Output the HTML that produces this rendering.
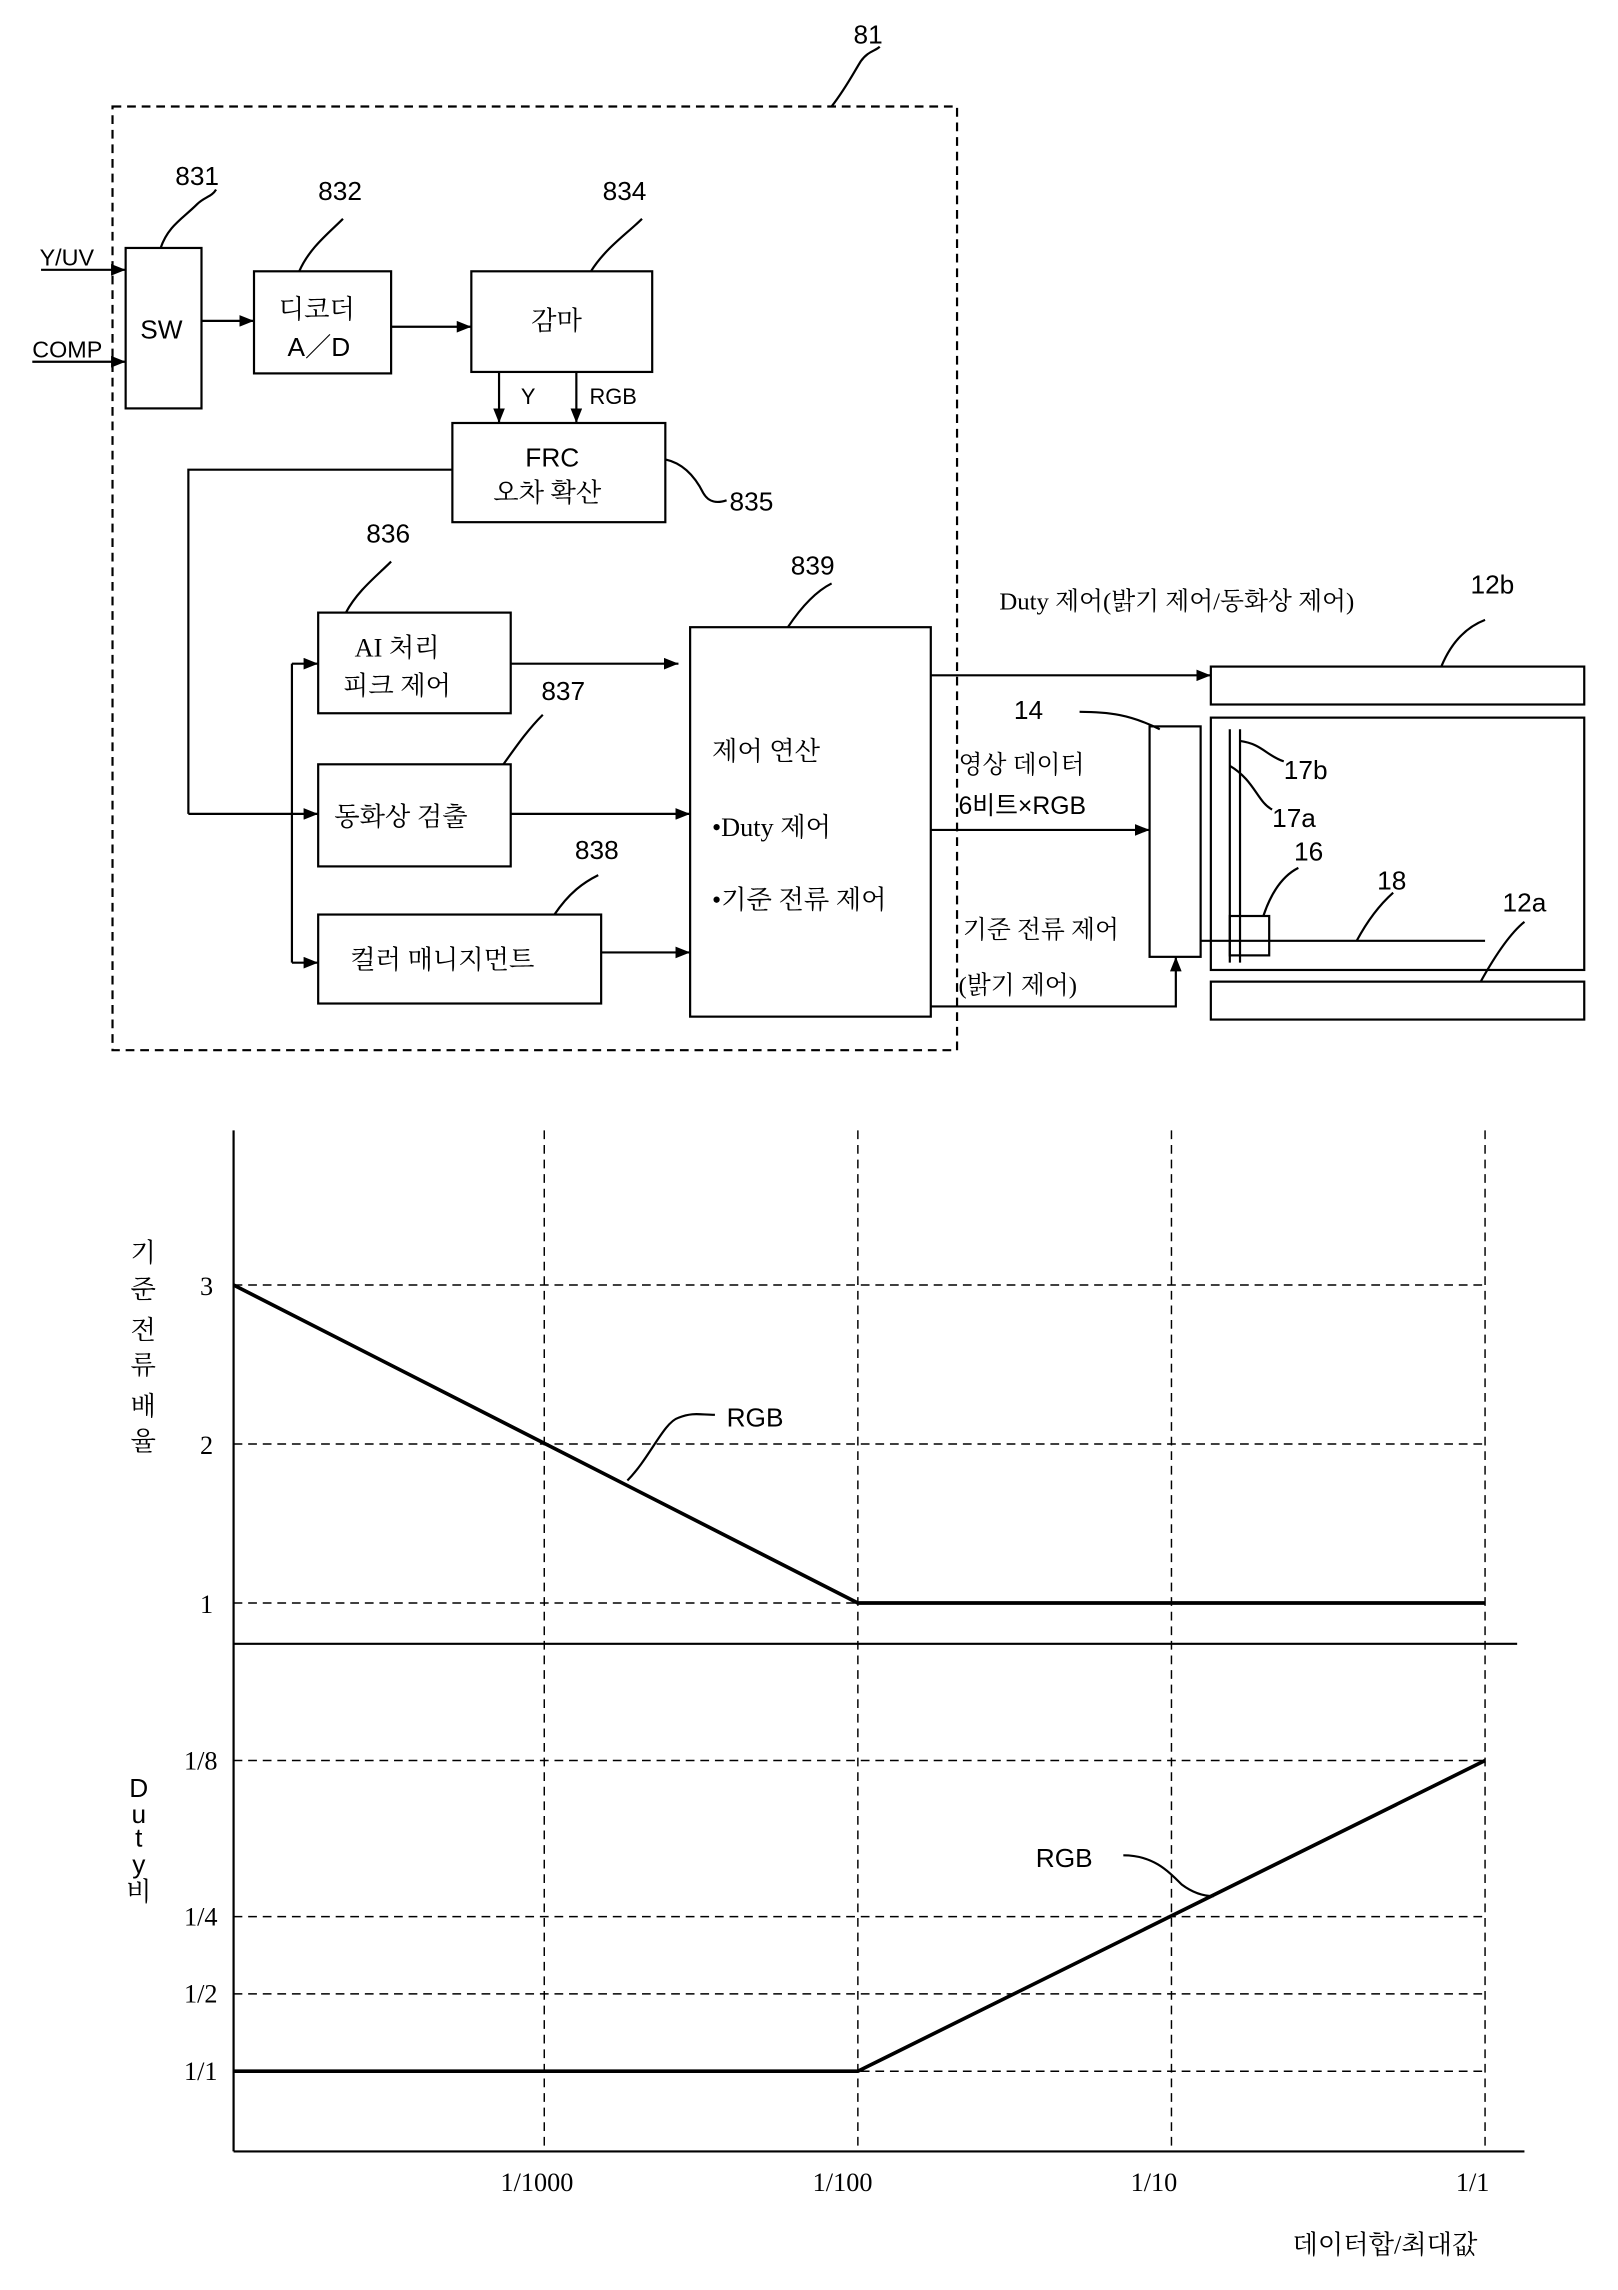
<!DOCTYPE html>
<html><head><meta charset="utf-8"><style>
html,body{margin:0;padding:0;background:#fff}
svg{display:block}
text{font-family:"Liberation Sans","Noto Sans CJK KR",sans-serif;fill:#000}
.s, .s text{font-family:"Liberation Serif","Noto Serif CJK SC","Noto Sans CJK KR",serif}
.s text.ss{font-family:"Liberation Sans","Noto Sans CJK KR",sans-serif}
</style></head><body>
<svg width="1618" height="2290" viewBox="0 0 1109 1570" xmlns="http://www.w3.org/2000/svg">
<defs><marker id="a" markerWidth="10" markerHeight="8" refX="10" refY="4" orient="auto" markerUnits="userSpaceOnUse"><path d="M0,0 L10,4 L0,8z" fill="#000"/></marker></defs>
<g fill="none" stroke="#000" stroke-width="1.5">
<rect x="77" y="73" width="579" height="647" stroke-dasharray="6,4"/>
<path d="M570,73 C580,60 585,50 590,42 C595,35 600,35 603,32"/>
<rect x="86" y="170" width="52" height="110"/>
<path d="M110,170 C115,155 125,150 135,140 C140,135 145,135 148,130"/>
<line x1="28" y1="185" x2="86" y2="185" marker-end="url(#a)"/>
<line x1="22" y1="248" x2="86" y2="248" marker-end="url(#a)"/>
<rect x="174" y="186" width="94" height="70"/>
<path d="M205,186 C212,170 225,160 235,150"/>
<line x1="138" y1="220" x2="174" y2="220" marker-end="url(#a)"/>
<rect x="323" y="186" width="124" height="69"/>
<path d="M405,186 C415,170 430,160 440,150"/>
<line x1="268" y1="224" x2="323" y2="224" marker-end="url(#a)"/>
<line x1="342" y1="255" x2="342" y2="290" marker-end="url(#a)"/>
<line x1="395" y1="255" x2="395" y2="290" marker-end="url(#a)"/>
<rect x="310" y="290" width="146" height="68"/>
<path d="M456,315 C470,318 478,330 482,338 C486,345 492,345 498,343"/>
<polyline points="310,322 129,322 129,558"/>
<line x1="129" y1="558" x2="218" y2="558" marker-end="url(#a)"/>
<line x1="200" y1="455" x2="200" y2="660"/>
<line x1="200" y1="455" x2="218" y2="455" marker-end="url(#a)"/>
<line x1="200" y1="660" x2="218" y2="660" marker-end="url(#a)"/>
<rect x="218" y="420" width="132" height="69"/>
<path d="M237,420 C245,405 258,395 268,385"/>
<rect x="218" y="524" width="132" height="70"/>
<path d="M345,524 C355,510 362,500 372,490"/>
<rect x="218" y="627" width="194" height="61"/>
<path d="M380,627 C390,612 400,605 410,600"/>
<rect x="473" y="430" width="165" height="267"/>
<path d="M540,430 C550,415 560,405 570,400"/>
<line x1="350" y1="455" x2="465" y2="455" marker-end="url(#a)"/>
<line x1="350" y1="558" x2="473" y2="558" marker-end="url(#a)"/>
<line x1="412" y1="653" x2="473" y2="653" marker-end="url(#a)"/>
<rect x="830" y="457" width="256" height="26"/>
<path d="M988,457 C995,440 1005,430 1018,425"/>
<line x1="638" y1="463" x2="830" y2="463" marker-end="url(#a)"/>
<rect x="788" y="498" width="35" height="158"/>
<path d="M740,488 C760,488 775,490 795,500"/>
<line x1="638" y1="569" x2="788" y2="569" marker-end="url(#a)"/>
<polyline points="638,690 806,690 806,656" marker-end="url(#a)"/>
<rect x="830" y="492" width="256" height="173"/>
<line x1="843" y1="500" x2="843" y2="660"/>
<line x1="850" y1="500" x2="850" y2="660"/>
<path d="M850,508 C865,510 868,518 880,522"/>
<path d="M843,525 C860,535 862,550 872,555"/>
<rect x="843" y="628" width="27" height="27"/>
<path d="M866,628 C872,610 880,600 890,595"/>
<line x1="823" y1="645" x2="1018" y2="645"/>
<path d="M930,645 C938,630 946,620 955,612"/>
<rect x="830" y="673" width="256" height="26"/>
<path d="M1015,673 C1025,655 1035,640 1045,632"/>
</g>
<g font-size="18">
<text x="585" y="30">81</text>
<text x="120" y="127">831</text>
<text x="218" y="137">832</text>
<text x="413" y="137">834</text>
<text x="27" y="182" font-size="16">Y/UV</text>
<text x="22" y="245" font-size="16">COMP</text>
<text x="96" y="232">SW</text>
<text x="191" y="218" class="s">디코더</text>
<text x="197" y="244">A／D</text>
<text x="364" y="226" class="s">감마</text>
<text x="357" y="277" font-size="15">Y</text>
<text x="404" y="277" font-size="15">RGB</text>
<text x="360" y="320">FRC</text>
<text x="338" y="344" class="s">오차 확산</text>
<text x="500" y="350">835</text>
<text x="251" y="372">836</text>
<text x="243" y="450" class="s">AI 처리</text>
<text x="235" y="476" class="s">피크 제어</text>
<text x="371" y="480">837</text>
<text x="229" y="566" class="s">동화상 검출</text>
<text x="394" y="589">838</text>
<text x="240" y="664" class="s">컬러 매니지먼트</text>
<text x="542" y="394">839</text>
<text x="488" y="521" class="s">제어 연산</text>
<text x="488" y="573" class="s">•Duty 제어</text>
<text x="488" y="623" class="s">•기준 전류 제어</text>
<text x="685" y="418" font-size="17" class="s">Duty 제어(밝기 제어/동화상 제어)</text>
<text x="1008" y="407">12b</text>
<text x="695" y="493">14</text>
<text x="657" y="530" class="s" font-size="17">영상 데이터</text>
<text x="657" y="558" font-size="17">6비트×RGB</text>
<text x="660" y="643" class="s" font-size="17">기준 전류 제어</text>
<text x="657" y="681" class="s" font-size="17">(밝기 제어)</text>
<text x="880" y="534">17b</text>
<text x="872" y="567">17a</text>
<text x="887" y="590">16</text>
<text x="944" y="610">18</text>
<text x="1030" y="625">12a</text>
</g>
<g fill="none" stroke="#000">
<g stroke-dasharray="6,4" stroke-width="1">
<line x1="373" y1="775" x2="373" y2="1475"/>
<line x1="588" y1="775" x2="588" y2="1475"/>
<line x1="803" y1="775" x2="803" y2="1475"/>
<line x1="1018" y1="775" x2="1018" y2="1475"/>
<line x1="160" y1="881" x2="1018" y2="881"/>
<line x1="160" y1="990" x2="1018" y2="990"/>
<line x1="160" y1="1099" x2="1018" y2="1099"/>
<line x1="160" y1="1207" x2="1018" y2="1207"/>
<line x1="160" y1="1314" x2="1018" y2="1314"/>
<line x1="160" y1="1367" x2="1018" y2="1367"/>
<line x1="160" y1="1420" x2="1018" y2="1420"/>
</g>
<line x1="160" y1="775" x2="160" y2="1475" stroke-width="1.5"/>
<line x1="160" y1="1127" x2="1040" y2="1127" stroke-width="1.5"/>
<line x1="160" y1="1475" x2="1045" y2="1475" stroke-width="1.5"/>
<polyline points="160,881 588,1099 1018,1099" stroke-width="2.5"/>
<polyline points="160,1420 588,1420 1018,1207" stroke-width="2.5"/>
<path d="M430,1015 C445,1000 455,975 465,972 C475,968 480,970 490,970" stroke-width="1.5"/>
<path d="M770,1272 C790,1272 800,1282 810,1292 C818,1298 825,1300 832,1300" stroke-width="1.5"/>
</g>
<g font-size="18" class="s">
<text x="498" y="978" class="ss">RGB</text>
<text x="710" y="1280" class="ss">RGB</text>
<text x="137" y="888">3</text><text x="137" y="997">2</text><text x="137" y="1106">1</text>
<text x="126" y="1213">1/8</text><text x="126" y="1320">1/4</text><text x="126" y="1373">1/2</text><text x="126" y="1426">1/1</text>
<text x="343" y="1502">1/1000</text><text x="557" y="1502">1/100</text><text x="775" y="1502">1/10</text><text x="998" y="1502">1/1</text>
<text x="886" y="1545">데이터합/최대값</text>
<g text-anchor="middle">
<text x="98" y="865">기</text><text x="98" y="890">준</text><text x="98" y="918">전</text><text x="98" y="942">류</text><text x="98" y="970">배</text><text x="98" y="994">율</text>
<text x="95" y="1232" class="ss">D</text><text x="95" y="1250" class="ss">u</text><text x="95" y="1266" class="ss">t</text><text x="95" y="1284" class="ss">y</text><text x="95" y="1303">비</text>
</g>
</g>
</svg>
</body></html>
